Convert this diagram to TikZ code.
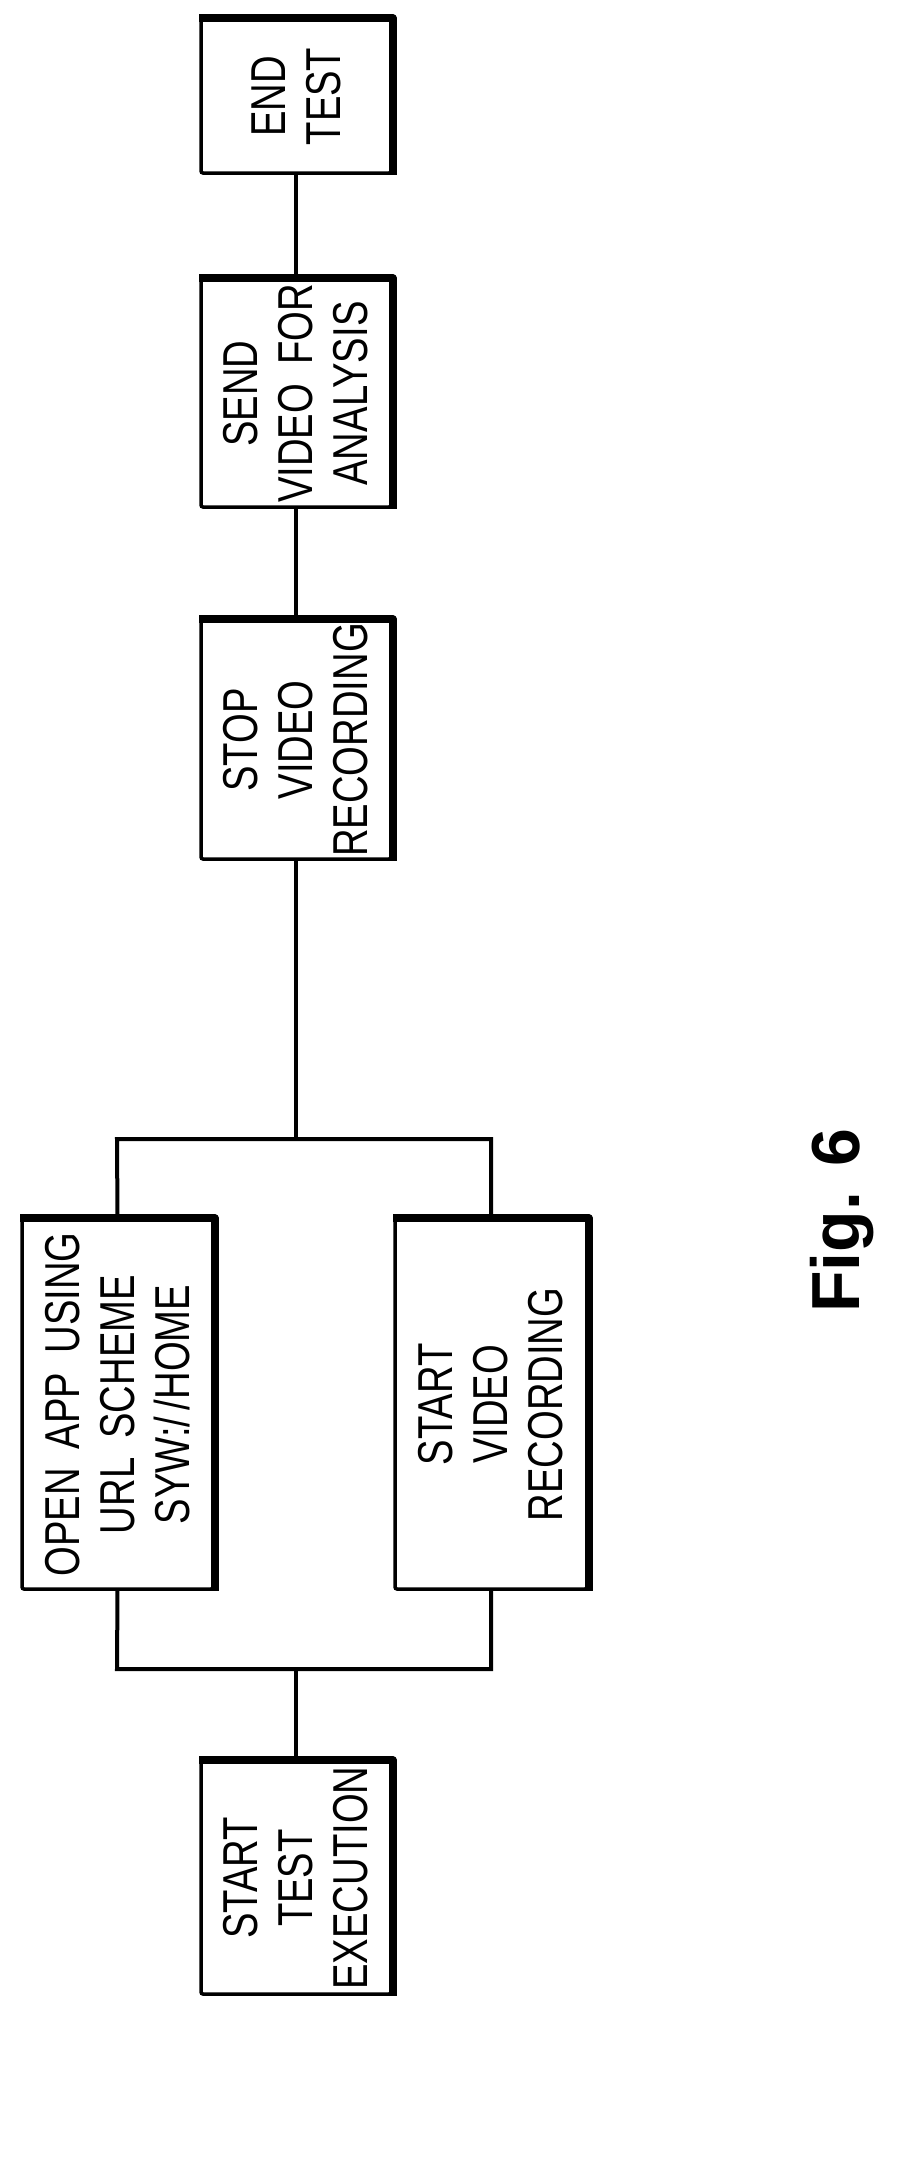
\documentclass[tikz,border=0pt]{standalone}
\usepackage{fontspec}
\setmainfont{Liberation Sans}
\begin{document}
\begin{tikzpicture}[x=1pt,y=-1pt,
  box/.style={draw,line width=3.5pt,rounded corners=2pt,inner sep=0pt},
  lbl/.style={rotate=90,xscale=0.78,transform shape,align=center,
    font=\fontsize{49}{55}\selectfont},
  conn/.style={line width=4pt}]
\useasboundingbox (0,0) rectangle (916,2169);
\newcommand{\bx}[6]{%
  \node[box,minimum width=#4pt,minimum height=#5pt] (#1) at (#2,#3) {};
  \draw[line width=8pt,line join=round] (#1.north west) -- (#1.north east) -- (#1.south east);
  \node[lbl] (#1t) at (#1) {#6};}
\newcommand{\wsp}{\hspace{0.5em}}
\bx{endt}{296}{96.5}{190}{153}{END\\TEST}
\bx{send}{296}{393.5}{190}{227}{SEND\\VIDEO\wsp FOR\\ANALYSIS}
\bx{stop}{296}{740}{190}{238}{STOP\\VIDEO\\RECORDING}
\bx{open}{117.5}{1404.5}{191}{369}{OPEN\wsp APP\wsp USING\\URL\wsp SCHEME\\SYW:/\,/HOME}
\bx{svid}{491}{1404.5}{192}{369}{START\\VIDEO\\RECORDING}
\bx{stest}{296}{1878}{190}{232}{START\\TEST\\EXECUTION}
\coordinate (t1) at (117,1139); \coordinate (t2) at (491,1139);
\coordinate (b1) at (117,1669); \coordinate (b2) at (491,1669);
\coordinate (tm) at (296,1139); \coordinate (bm) at (296,1669);
\draw[conn] (endt.south) -- (send.north);
\draw[conn] (send.south) -- (stop.north);
\draw[conn] (stop.south) -- (tm);
\draw[conn] (open.north) -- (t1) -- (t2) -- (svid.north);
\draw[conn] (open.south) -- (b1) -- (b2) -- (svid.south);
\draw[conn] (bm) -- (stest.north);
\node[rotate=90,font=\bfseries\fontsize{68}{68}\selectfont] (fig) at (842,1221) {Fig. 6};
\end{tikzpicture}
\end{document}
